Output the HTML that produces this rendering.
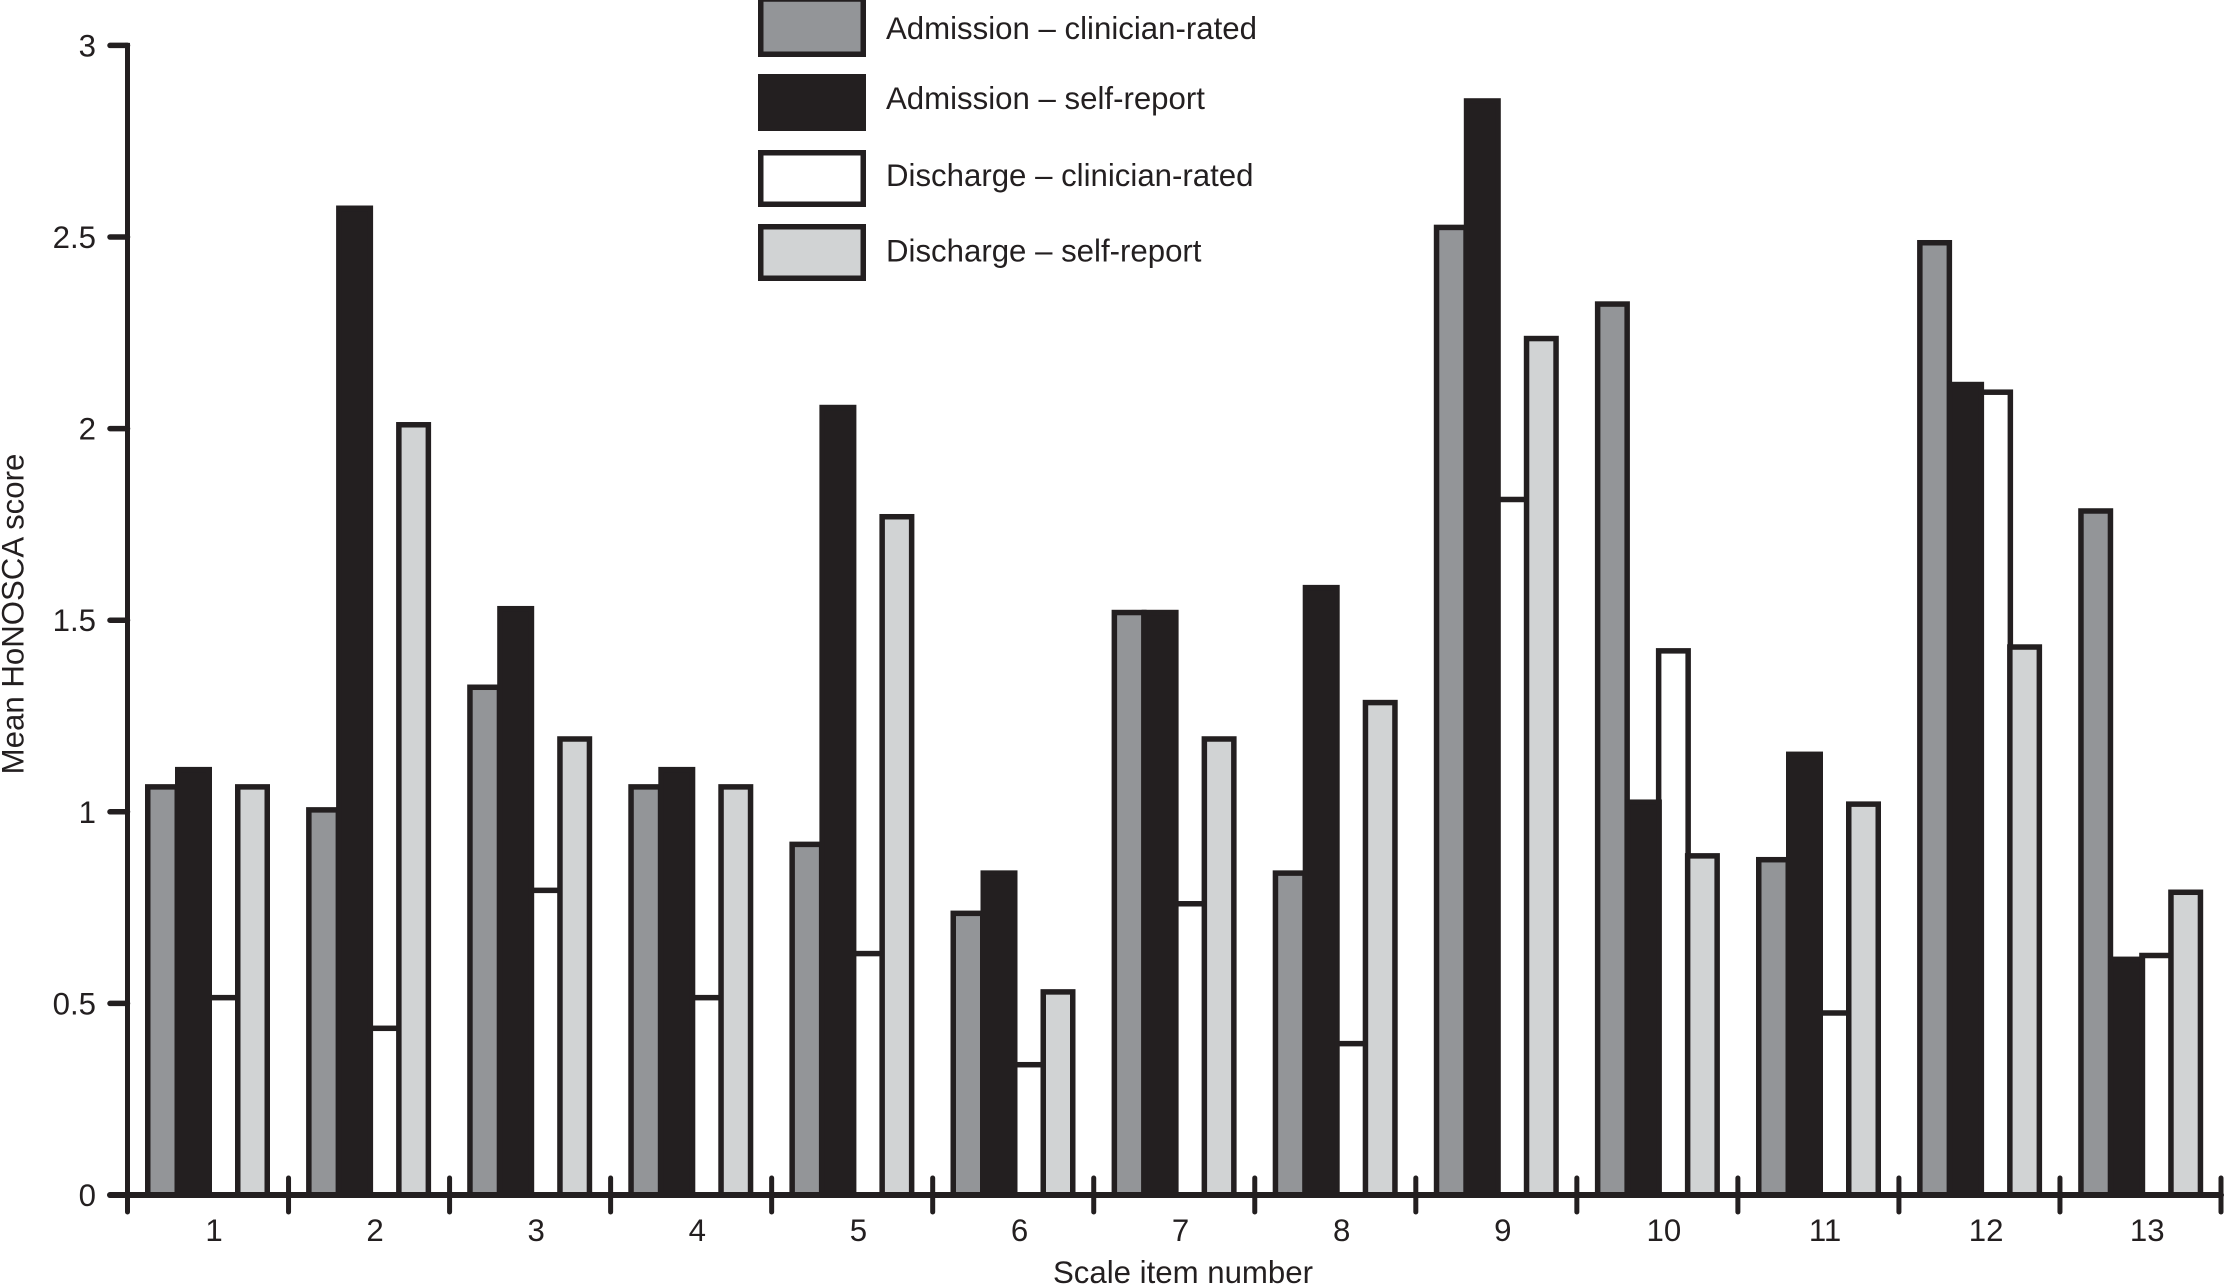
<!DOCTYPE html>
<html>
<head>
<meta charset="utf-8">
<title>Mean HoNOSCA score by scale item</title>
<style>
  html, body { margin: 0; padding: 0; background: #fff; }
  svg { display: block; }
  text { font-family: "Liberation Sans", sans-serif; font-size: 31.2px; fill: #231f20; }
</style>
</head>
<body>
<svg id="chart" xmlns="http://www.w3.org/2000/svg" width="2224" height="1284" viewBox="0 0 2224 1284">
  <rect x="0" y="0" width="2224" height="1284" fill="#ffffff"/>
  <g id="bars"></g>
  <g id="axes"></g>

  <g>
    <g>
      <rect x="760.75" y="-1" width="102.5" height="55.25" fill="#939598" stroke="#231f20" stroke-width="5.5"/>
      <text x="886" y="39">Admission – clinician-rated</text>
    </g>
    <g>
      <rect x="760.75" y="76.75" width="102.5" height="51.5" fill="#231f20" stroke="#231f20" stroke-width="5.5"/>
      <text x="886" y="109">Admission – self-report</text>
    </g>
    <g>
      <rect x="760.75" y="152.75" width="102.5" height="51.5" fill="#ffffff" stroke="#231f20" stroke-width="5.5"/>
      <text x="886" y="186">Discharge – clinician-rated</text>
    </g>
    <g>
      <rect x="760.75" y="226.75" width="102.5" height="51.5" fill="#d1d3d4" stroke="#231f20" stroke-width="5.5"/>
      <text x="886" y="261.5">Discharge – self-report</text>
    </g>
  </g>

  <text x="1183" y="1283" text-anchor="middle">Scale item number</text>
  <text transform="translate(23.5 614) rotate(-90)" text-anchor="middle">Mean HoNOSCA score</text>
</svg>

<script>
const categories = ["1","2","3","4","5","6","7","8","9","10","11","12","13"];
const admissionClinician = [1.065,1.005,1.325,1.065,0.915,0.735,1.52,0.84,2.525,2.325,0.875,2.485,1.785];
const admissionSelfReport = [1.11,2.575,1.53,1.11,2.055,0.84,1.52,1.585,2.855,1.025,1.15,2.115,0.615];
const dischargeClinician = [0.515,0.435,0.795,0.515,0.63,0.34,0.76,0.395,1.815,1.42,0.475,2.095,0.625];
const dischargeSelfReport = [1.065,2.01,1.19,1.065,1.77,0.53,1.19,1.285,2.235,0.885,1.02,1.43,0.79];
const yTickValues = [0,0.5,1,1.5,2,2.5,3];
const yTickLabels = ["0","0.5","1","1.5","2","2.5","3"];

const SVG_NS = "http://www.w3.org/2000/svg";
const INK = "#231f20";
const STROKE = 5.5;
const Y_ZERO = 1195;
const Y_UNIT = 383.2;
const GROUP_START = 145;
const GROUP_STEP = 161.1;
const AXIS_X = 127.5;

function yScale(v) { return Y_ZERO - v * Y_UNIT; }
function groupX(i) { return GROUP_START + i * GROUP_STEP; }
function boundaryX(i) { return AXIS_X + i * (2221 - AXIS_X) / categories.length; }

function make(tag, attrs) {
  const el = document.createElementNS(SVG_NS, tag);
  for (const k in attrs) el.setAttribute(k, attrs[k]);
  return el;
}

const barsLayer = document.getElementById("bars");
const axesLayer = document.getElementById("axes");

function drawBar(parent, name, value, left, outerWidth, fill) {
  const top = yScale(value);
  const bar = make("rect", {
    x: left + STROKE / 2,
    y: top,
    width: outerWidth - STROKE,
    height: Y_ZERO - top,
    fill: fill,
    stroke: INK,
    "stroke-width": STROKE
  });
  
  
  parent.appendChild(bar);
}

categories.forEach(function (cat, i) {
  const gx = groupX(i);
  const group = make("g", {});
  
  
  barsLayer.appendChild(group);
  drawBar(group, 'bar-admission-clinician-' + cat, admissionClinician[i], gx, 35, "#939598");
  drawBar(group, 'bar-discharge-clinician-' + cat, dischargeClinician[i], gx + 61, 35, "#ffffff");
  drawBar(group, 'bar-admission-self-report-' + cat, admissionSelfReport[i], gx + 30, 37, INK);
  drawBar(group, 'bar-discharge-self-report-' + cat, dischargeSelfReport[i], gx + 90, 35, "#d1d3d4");
});

const yAxisLine = make("line", { x1: AXIS_X, x2: AXIS_X, y1: yScale(3) - 2.5, y2: Y_ZERO, stroke: INK, "stroke-width": 5 });


axesLayer.appendChild(yAxisLine);

const xAxisLine = make("line", { x1: 110, x2: 2221, y1: Y_ZERO, y2: Y_ZERO, stroke: INK, "stroke-width": 6, "stroke-linecap": "round" });


axesLayer.appendChild(xAxisLine);

yTickValues.forEach(function (v, i) {
  const tick = make("line", { x1: 110, x2: AXIS_X, y1: yScale(v), y2: yScale(v), stroke: INK, "stroke-width": 5.5, "stroke-linecap": "round" });
  
  
  axesLayer.appendChild(tick);
  const label = make("text", { x: 96, y: yScale(v) + 11, "text-anchor": "end" });
  
  
  label.textContent = yTickLabels[i];
  axesLayer.appendChild(label);
});

for (let i = 0; i <= categories.length; i++) {
  const bx = boundaryX(i);
  const tick = make("line", { x1: bx, x2: bx, y1: i === 0 ? Y_ZERO : 1178, y2: 1212, stroke: INK, "stroke-width": 5, "stroke-linecap": "round" });
  
  
  axesLayer.appendChild(tick);
}

categories.forEach(function (cat, i) {
  const label = make("text", { x: groupX(i) + 69, y: 1241, "text-anchor": "middle" });
  
  
  label.textContent = cat;
  axesLayer.appendChild(label);
});
</script>
</body>
</html>
